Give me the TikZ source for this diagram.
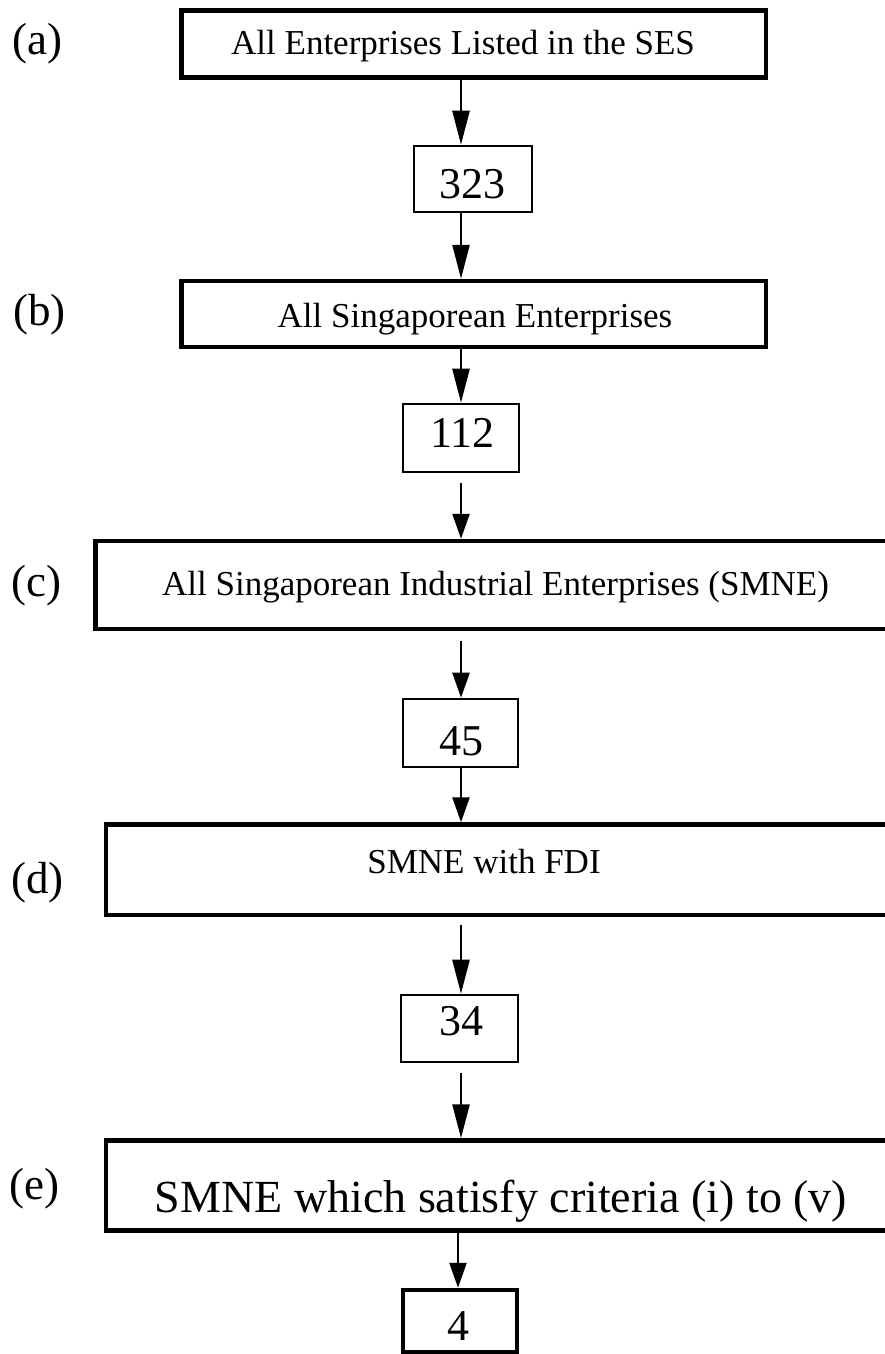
\documentclass[tikz,border=0pt]{standalone}
\usepackage{fontspec}
\setmainfont{Liberation Serif}
\usetikzlibrary{arrows.meta}
\begin{document}
\begin{tikzpicture}[x=1pt, y=-1pt,
  stage/.style={draw, rectangle, line width=4.5pt, inner sep=0pt},
  count/.style={draw, rectangle, line width=2.6pt, inner sep=0pt},
  boxtext/.style={anchor=base, inner sep=0pt, font=\fontsize{35}{40}\selectfont},
  bigtext/.style={anchor=base, inner sep=0pt, font=\fontsize{46}{52}\selectfont},
  numtext/.style={anchor=base, inner sep=0pt, font=\fontsize{44}{50}\selectfont},
  tag/.style={anchor=base west, inner sep=0pt, font=\fontsize{45}{50}\selectfont},
  flowlong/.style={line width=2.5pt, -{Triangle[length=34pt,width=17pt]}},
  flowshort/.style={line width=2.5pt, -{Triangle[length=25pt,width=17pt]}}]
\useasboundingbox (0,0) rectangle (885,1354);
\clip (0,0) rectangle (885,1354);
\fill[white] (0,0) rectangle (885,1354);

% stages of the selection
\node[stage, minimum width=584.5pt, minimum height=67pt] (a) at (473.75,44) {};
\node[stage, minimum width=584.5pt, minimum height=66pt] (b) at (473.75,314) {};
\node[stage, minimum width=799.5pt, minimum height=88pt] (c) at (495.25,585) {};
\node[stage, minimum width=789pt, minimum height=90.5pt] (d) at (500.5,869.75) {};
\node[stage, minimum width=789pt, minimum height=90pt] (e) at (500.5,1185.5) {};

\node[boxtext] (a-text) at (463,55) {All Enterprises Listed in the SES};
\node[boxtext] (b-text) at (475,327) {All Singaporean Enterprises};
\node[boxtext] (c-text) at (495.5,595) {All Singaporean Industrial Enterprises (SMNE)};
\node[boxtext] (d-text) at (484,873) {SMNE with FDI};
\node[bigtext] (e-text) at (501,1212) {SMNE which satisfy criteria (i) to (v)};

% counts between the stages
\node[count, minimum width=118pt, minimum height=66pt] (n323) at (473,179) {};
\node[count, minimum width=116pt, minimum height=68pt] (n112) at (461,438) {};
\node[count, minimum width=115pt, minimum height=68pt] (n45) at (460.5,733) {};
\node[count, minimum width=117pt, minimum height=67pt] (n34) at (459.5,1028.5) {};
\node[stage, minimum width=114pt, minimum height=62pt] (n4) at (460,1321) {};

\node[numtext] (n323-text) at (472.5,198) {323};
\node[numtext] (n112-text) at (462.5,447) {112};
\node[numtext] (n45-text) at (461,755) {45};
\node[numtext] (n34-text) at (461,1035) {34};
\node[numtext] (n4-text) at (458,1340) {4};

% row tags
\node[tag] (tag-a) at (12,55) {(a)};
\node[tag] (tag-b) at (13,325) {(b)};
\node[tag] (tag-c) at (11,596) {(c)};
\node[tag] (tag-d) at (11,893) {(d)};
\node[tag] (tag-e) at (9,1199) {(e)};

% connectors
\coordinate (spine) at (461,0);
\coordinate (spine4) at (458,0);
\draw[flowlong] (a.south -| spine) -- (n323.north -| spine);
\draw[flowlong] (n323.south -| spine) -- (b.north -| spine);
\draw[flowlong] (b.south -| spine) -- (n112.north -| spine);
\draw[flowshort, shorten <=10pt] (n112.south -| spine) -- (c.north -| spine);
\draw[flowshort, shorten <=10pt] (c.south -| spine) -- (n45.north -| spine);
\draw[flowshort] (n45.south -| spine) -- (d.north -| spine);
\draw[flowlong, shorten <=8pt] (d.south -| spine) -- (n34.north -| spine);
\draw[flowlong, shorten <=10pt] (n34.south -| spine) -- (e.north -| spine);
\draw[flowshort] (e.south -| spine4) -- (n4.north -| spine4);
\end{tikzpicture}
\end{document}
